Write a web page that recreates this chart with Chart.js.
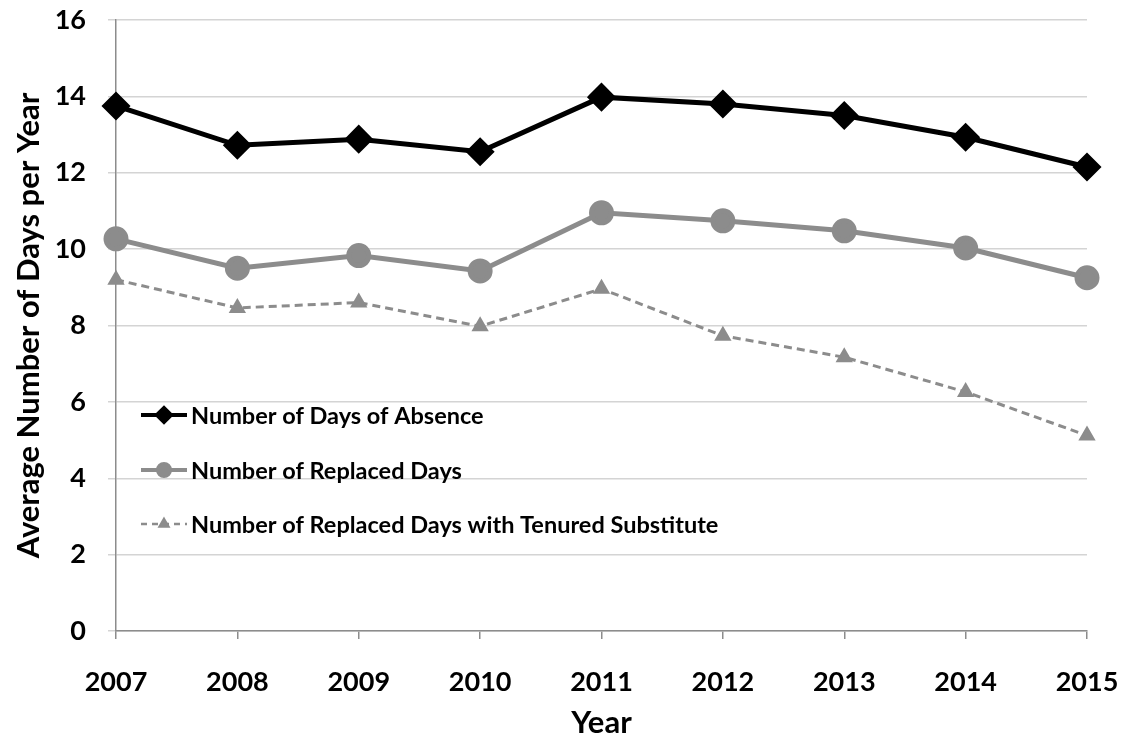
<!DOCTYPE html>
<html>
<head>
<meta charset="utf-8">
<script src="https://cdn.jsdelivr.net/npm/chart.js@4/dist/chart.umd.min.js"></script>
<style>
  html, body { margin: 0; padding: 0; background: #fff; }
  #wrap { width: 1127px; height: 742px; position: relative; }
</style>
</head>
<body>
<div id="wrap"><canvas id="absenceChart" width="1127" height="742"></canvas></div>
<script>
// Data
const years = ['2007', '2008', '2009', '2010', '2011', '2012', '2013', '2014', '2015'];
const daysAbsence = [13.75, 12.72, 12.88, 12.55, 13.98, 13.80, 13.50, 12.93, 12.15];
const replacedDays = [10.27, 9.50, 9.83, 9.43, 10.95, 10.74, 10.48, 10.03, 9.25];
const tenuredDays = [9.20, 8.46, 8.60, 7.98, 8.96, 7.73, 7.17, 6.26, 5.12];
const yTicks = [0, 2, 4, 6, 8, 10, 12, 14, 16];

const GREY = '#8c8c8c';
const FONT = 'Lato, "Open Sans", sans-serif';

// Legend drawn inside the plot area, stacked vertically on the left
const insideLegend = {
    id: 'insideLegend',
    afterDraw(chart) {
        const ctx = chart.ctx;
        const x0 = chart.chartArea.left + 25;
        const rows = [415, 470, 524];
        chart.data.datasets.forEach((ds, i) => {
            const y = rows[i];
            ctx.save();
            ctx.strokeStyle = ds.borderColor;
            ctx.lineWidth = ds.legendLine;
            ctx.setLineDash(ds.borderDash ? [6, 5] : []);
            ctx.beginPath();
            ctx.moveTo(x0, y);
            ctx.lineTo(x0 + 46, y);
            ctx.stroke();
            ctx.setLineDash([]);
            Chart.helpers.drawPoint(ctx, {
                pointStyle: ds.pointStyle,
                radius: ds.legendRadius,
                borderWidth: 1
            }, x0 + 23, y);
            ctx.fillStyle = ds.pointBackgroundColor;
            ctx.strokeStyle = ds.pointBackgroundColor;
            ctx.fill();
            ctx.fillStyle = '#000';
            ctx.font = 'bold 23.5px ' + FONT;
            ctx.textBaseline = 'middle';
            ctx.fillText(ds.label, x0 + 50, y + 1);
            ctx.restore();
        });
    }
};

const ctx = document.getElementById('absenceChart').getContext('2d');
new Chart(ctx, {
    type: 'line',
    data: {
        labels: years,
        datasets: [
            {
                label: 'Number of Days of Absence',
                data: daysAbsence,
                borderColor: '#000',
                backgroundColor: '#000',
                pointBackgroundColor: '#000',
                pointBorderColor: '#000',
                borderWidth: 5,
                pointStyle: 'rectRot',
                pointRadius: 11,
                legendRadius: 7,
                legendLine: 4,
                tension: 0
            },
            {
                label: 'Number of Replaced Days',
                data: replacedDays,
                borderColor: GREY,
                backgroundColor: GREY,
                pointBackgroundColor: GREY,
                pointBorderColor: GREY,
                borderWidth: 5,
                pointStyle: 'circle',
                pointRadius: 10,
                legendRadius: 6,
                legendLine: 4,
                tension: 0
            },
            {
                label: 'Number of Replaced Days with Tenured Substitute',
                data: tenuredDays,
                borderColor: GREY,
                backgroundColor: GREY,
                pointBackgroundColor: GREY,
                pointBorderColor: GREY,
                borderWidth: 3,
                borderDash: [8, 5],
                pointStyle: 'triangle',
                pointRadius: 7,
                legendRadius: 5,
                legendLine: 2.5,
                tension: 0
            }
        ]
    },
    options: {
        responsive: false,
        animation: false,
        layout: { padding: { top: 20, right: 40, left: 0, bottom: 0 } },
        plugins: {
            legend: { display: false },
            tooltip: { enabled: false }
        },
        scales: {
            x: {
                offset: false,
                grid: { drawOnChartArea: false, drawTicks: true, tickLength: 8, color: GREY, lineWidth: 1.5 },
                border: { color: GREY, width: 1.5 },
                ticks: { color: '#000', font: { family: FONT, size: 27, weight: 'bold' }, padding: 27, maxRotation: 0 },
                title: { display: true, text: 'Year', color: '#000', font: { family: FONT, size: 31, weight: 'bold' }, padding: 0 },
                afterFit(scale) {
                    scale.height = 111;
                    scale.paddingLeft = 0;
                    scale.paddingRight = 0;
                }
            },
            y: {
                min: 0,
                max: 16,
                afterBuildTicks(scale) { scale.ticks = yTicks.map(v => ({ value: v })); },
                grid: { color: '#d4d4d4', lineWidth: 1.5, tickLength: 8 },
                border: { color: GREY, width: 1.5 },
                ticks: { color: '#000', font: { family: FONT, size: 27, weight: 'bold' }, padding: 22 },
                title: { display: true, text: 'Average Number of Days per Year', color: '#000', font: { family: FONT, size: 31, weight: 'bold' }, padding: { top: 10, bottom: 0 } },
                afterFit(scale) {
                    scale.width = 116;
                    scale.paddingTop = 0;
                    scale.paddingBottom = 0;
                }
            }
        }
    },
    plugins: [insideLegend]
});
</script>
</body>
</html>
